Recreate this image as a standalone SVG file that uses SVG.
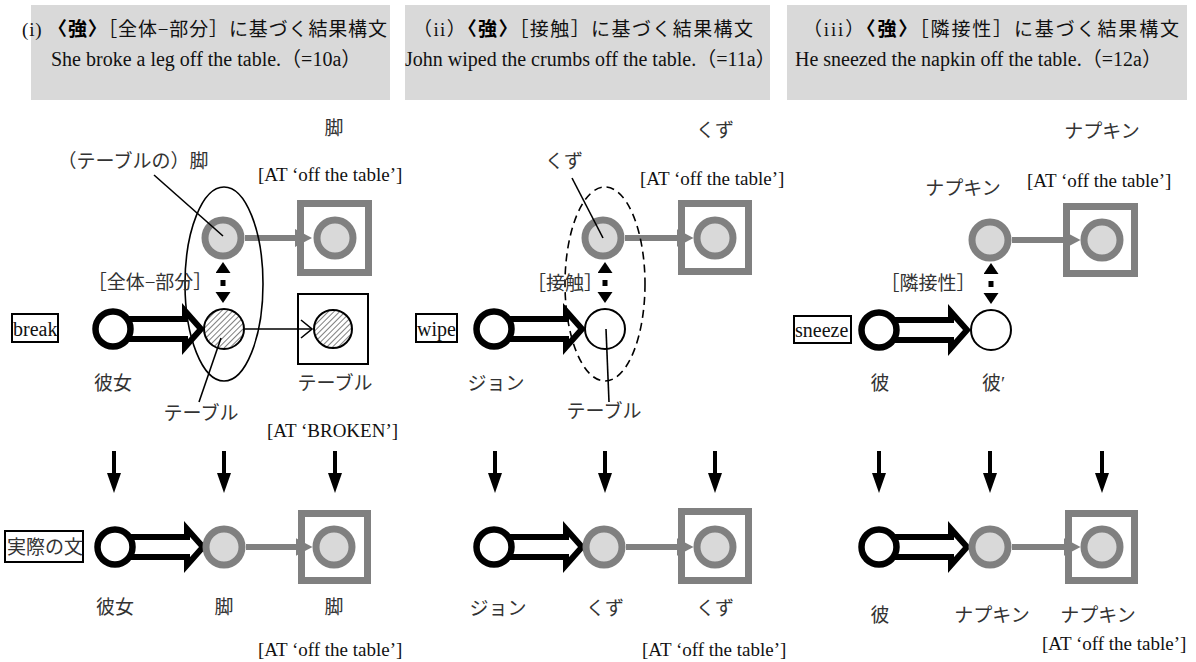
<svg xmlns="http://www.w3.org/2000/svg" width="1196" height="662" viewBox="0 0 1196 662">
  <style>
    .hdr { fill: #d9d9d9; }
    .t { font-family: 'Liberation Serif', 'Noto Sans CJK JP', serif; fill: #111; }
    .h1 { font-size: 19px; }
    .h2 { font-size: 20px; }
    .lbl { font-size: 19px; fill: #333; }
    .at { font-size: 19px; }
    .verb { font-size: 20px; }
    .b { font-weight: 700; fill: #000; }
    .mid { text-anchor: middle; }
    .gc { fill: #d9d9d9; stroke: #808080; stroke-width: 7; }
    .gsq { fill: none; stroke: #808080; stroke-width: 7; }
    .kc { fill: #fff; stroke: #000; stroke-width: 6.5; }
    .wc { fill: #fff; stroke: #000; stroke-width: 2; }
    .hc { fill: url(#hatch); stroke: #000; stroke-width: 2; }
    .bsq { fill: none; stroke: #000; stroke-width: 2; }
    .box { fill: #fff; stroke: #000; stroke-width: 2; }
    .garr { stroke: #808080; stroke-width: 6; fill: none; marker-end: url(#gHead); }
    .down { stroke: #000; stroke-width: 4; fill: none; marker-end: url(#dHead); }
    .dbl { stroke: #000; stroke-width: 5; fill: none; stroke-dasharray: 0 7 6 7; marker-start: url(#sHead); marker-end: url(#sHead); }
    .thin { stroke: #000; stroke-width: 1.6; fill: none; }
    .hollow { fill: #fff; stroke: #000; stroke-width: 6; stroke-linejoin: miter; }
  </style>
  <defs>
    <pattern id="hatch" patternUnits="userSpaceOnUse" width="4" height="4" patternTransform="rotate(45)">
      <rect width="4" height="4" fill="#fff"/>
      <line x1="0" y1="0" x2="0" y2="4" stroke="#555" stroke-width="1.5"/>
    </pattern>
    <marker id="gHead" markerUnits="userSpaceOnUse" markerWidth="18" markerHeight="20" refX="5" refY="10" orient="auto">
      <path d="M0,1 L17,10 L0,19 z" fill="#808080"/>
    </marker>
    <marker id="dHead" markerUnits="userSpaceOnUse" markerWidth="22" markerHeight="16" refX="6" refY="7" orient="auto">
      <path d="M0,0 L20,7 L0,14 z" fill="#000"/>
    </marker>
    <marker id="sHead" markerUnits="userSpaceOnUse" markerWidth="12" markerHeight="16" refX="0" refY="7.5" orient="auto-start-reverse">
      <path d="M0,0 L11,7.5 L0,15 z" fill="#000"/>
    </marker>
    <!-- hollow block arrow, origin at the agent circle centre -->
    <path id="hollowArrow" d="M12,-10 L72,-10 L72,-18 L88,0 L72,18 L72,10 L12,10"/>
  </defs>

  <!-- panel headers -->
  <g id="header-1">
    <rect class="hdr" x="31" y="5" width="359" height="95"/>
    <text class="t h1" x="22" y="36" textLength="365">(i) <tspan class="b">〈強〉</tspan>［全体−部分］に基づく結果構文</text>
    <text class="t h2" x="51" y="66">She broke a leg off the table.（=10a）</text>
  </g>
  <g id="header-2">
    <rect class="hdr" x="405" y="5" width="365" height="95"/>
    <text class="t h1" x="413" y="36" textLength="340">（ii）<tspan class="b">〈強〉</tspan>［接触］に基づく結果構文</text>
    <text class="t h2" x="405" y="66">John wiped the crumbs off the table.（=11a）</text>
  </g>
  <g id="header-3">
    <rect class="hdr" x="787" y="5" width="400" height="95"/>
    <text class="t h1" x="803" y="36" textLength="376">（iii）<tspan class="b">〈強〉</tspan>［隣接性］に基づく結果構文</text>
    <text class="t h2" x="795" y="66">He sneezed the napkin off the table.（=12a）</text>
  </g>

  <!-- arrows and links -->
  <g id="connectors">
    <!-- panel (i) -->
    <line class="garr" x1="245" y1="238" x2="300" y2="238"/>
    <line class="dbl" x1="223" y1="273" x2="223" y2="292"/>
    <use href="#hollowArrow" class="hollow" transform="translate(113,329)"/>
    <line class="thin" x1="245" y1="329" x2="312" y2="329"/>
    <path class="thin" d="M301,320 L312,329 L301,338"/>
    <line class="down" x1="114" y1="451" x2="114" y2="479"/>
    <line class="down" x1="224" y1="451" x2="224" y2="479"/>
    <line class="down" x1="335" y1="451" x2="335" y2="479"/>
    <use href="#hollowArrow" class="hollow" transform="translate(115,547)"/>
    <line class="garr" x1="246" y1="547" x2="300.5" y2="547"/>

    <!-- panel (ii) -->
    <line class="garr" x1="625" y1="238" x2="681.5" y2="238"/>
    <line class="dbl" x1="605" y1="273" x2="605" y2="292"/>
    <use href="#hollowArrow" class="hollow" transform="translate(494,329)"/>
    <line class="down" x1="495" y1="451" x2="495" y2="479"/>
    <line class="down" x1="605" y1="451" x2="605" y2="479"/>
    <line class="down" x1="715" y1="451" x2="715" y2="479"/>
    <use href="#hollowArrow" class="hollow" transform="translate(494,547)"/>
    <line class="garr" x1="626" y1="547" x2="681.5" y2="547"/>

    <!-- panel (iii) -->
    <line class="garr" x1="1012" y1="240" x2="1068.5" y2="240"/>
    <line class="dbl" x1="991" y1="274" x2="991" y2="293"/>
    <use href="#hollowArrow" class="hollow" transform="translate(879,330)"/>
    <line class="down" x1="879" y1="451" x2="879" y2="479"/>
    <line class="down" x1="990" y1="451" x2="990" y2="479"/>
    <line class="down" x1="1102" y1="451" x2="1102" y2="479"/>
    <use href="#hollowArrow" class="hollow" transform="translate(879,547)"/>
    <line class="garr" x1="1012" y1="547" x2="1068.5" y2="547"/>
  </g>

  <!-- panel (i) nodes -->
  <g id="p1-whole-part">
    <ellipse cx="224" cy="284" rx="39" ry="97" fill="none" stroke="#000" stroke-width="1.6"/>
  </g>
  <g id="p1-leg">
    <circle class="gc" cx="223" cy="238" r="18"/>
    <text class="t lbl mid" x="334" y="135">脚</text>
    <text class="t lbl mid" x="133" y="168">（テーブルの）脚</text>
  </g>
  <g id="p1-leg-goal">
    <rect class="gsq" x="300.5" y="203.5" width="68" height="69"/>
    <circle class="gc" cx="335" cy="238" r="18"/>
    <text class="t at" x="258" y="181">[AT ‘off the table’]</text>
  </g>
  <g id="p1-relation">
    <text class="t lbl mid" x="150" y="289">［全体−部分］</text>
  </g>
  <g id="p1-verb">
    <rect class="box" x="12" y="314" width="46" height="28"/>
    <text class="t verb" x="13" y="336">break</text>
  </g>
  <g id="p1-agent">
    <circle class="kc" cx="113" cy="329" r="17.5"/>
    <text class="t lbl mid" x="113" y="390">彼女</text>
  </g>
  <g id="p1-table">
    <circle class="hc" cx="224" cy="329" r="20"/>
    <text class="t lbl mid" x="201" y="420">テーブル</text>
  </g>
  <g id="p1-table-goal">
    <rect class="bsq" x="298" y="294" width="70" height="70"/>
    <circle class="hc" cx="333" cy="329" r="19"/>
    <text class="t lbl mid" x="335" y="390">テーブル</text>
    <text class="t at" x="267" y="437">[AT ‘BROKEN’]</text>
  </g>
  <g id="p1-actual">
    <rect class="box" x="5" y="531" width="78" height="31"/>
    <text class="t lbl" x="7" y="554">実際の文</text>
    <circle class="kc" cx="115" cy="547" r="17.5"/>
    <circle class="gc" cx="224" cy="547" r="18"/>
    <rect class="gsq" x="301.5" y="513.5" width="66" height="67"/>
    <circle class="gc" cx="334" cy="547" r="18"/>
    <text class="t lbl mid" x="115" y="614">彼女</text>
    <text class="t lbl mid" x="224" y="614">脚</text>
    <text class="t lbl mid" x="334" y="614">脚</text>
    <text class="t at" x="258" y="656">[AT ‘off the table’]</text>
  </g>

  <!-- panel (ii) nodes -->
  <g id="p2-contact">
    <ellipse cx="605" cy="284" rx="40" ry="97" fill="none" stroke="#000" stroke-width="1.6" stroke-dasharray="8 5"/>
  </g>
  <g id="p2-crumbs">
    <circle class="gc" cx="603" cy="238" r="18"/>
    <text class="t lbl mid" x="715" y="137">くず</text>
    <text class="t lbl mid" x="564" y="168">くず</text>
  </g>
  <g id="p2-crumbs-goal">
    <rect class="gsq" x="681.5" y="203.5" width="67" height="68"/>
    <circle class="gc" cx="715" cy="238" r="18"/>
    <text class="t at" x="640" y="185">[AT ‘off the table’]</text>
  </g>
  <g id="p2-relation">
    <text class="t lbl mid" x="565" y="290">［接触］</text>
  </g>
  <g id="p2-verb">
    <rect class="box" x="416" y="314" width="41" height="28"/>
    <text class="t verb" x="417" y="336">wipe</text>
  </g>
  <g id="p2-agent">
    <circle class="kc" cx="494" cy="329" r="17.5"/>
    <text class="t lbl mid" x="496" y="390">ジョン</text>
  </g>
  <g id="p2-table">
    <circle class="wc" cx="605" cy="329" r="20"/>
    <text class="t lbl mid" x="604" y="418">テーブル</text>
  </g>
  <g id="p2-actual">
    <circle class="kc" cx="494" cy="547" r="17.5"/>
    <circle class="gc" cx="604" cy="547" r="18"/>
    <rect class="gsq" x="681.5" y="511.5" width="67" height="69"/>
    <circle class="gc" cx="715" cy="547" r="18"/>
    <text class="t lbl mid" x="498" y="615">ジョン</text>
    <text class="t lbl mid" x="605" y="615">くず</text>
    <text class="t lbl mid" x="715" y="615">くず</text>
    <text class="t at" x="642" y="656">[AT ‘off the table’]</text>
  </g>

  <!-- panel (iii) nodes -->
  <g id="p3-napkin">
    <circle class="gc" cx="990" cy="240" r="18"/>
    <text class="t lbl mid" x="1102" y="138">ナプキン</text>
    <text class="t lbl mid" x="963" y="195">ナプキン</text>
  </g>
  <g id="p3-napkin-goal">
    <rect class="gsq" x="1066.5" y="206.5" width="68" height="67"/>
    <circle class="gc" cx="1102" cy="240" r="18"/>
    <text class="t at" x="1027" y="187">[AT ‘off the table’]</text>
  </g>
  <g id="p3-relation">
    <text class="t lbl mid" x="928" y="290">［隣接性］</text>
  </g>
  <g id="p3-verb">
    <rect class="box" x="794" y="316" width="57" height="27"/>
    <text class="t verb" x="795" y="337">sneeze</text>
  </g>
  <g id="p3-agent">
    <circle class="kc" cx="879" cy="330" r="17.5"/>
    <text class="t lbl mid" x="880" y="390">彼</text>
  </g>
  <g id="p3-self">
    <circle class="wc" cx="991" cy="330" r="20"/>
    <text class="t lbl" x="982" y="390">彼′</text>
  </g>
  <g id="p3-actual">
    <circle class="kc" cx="879" cy="547" r="17.5"/>
    <circle class="gc" cx="990" cy="547" r="18"/>
    <rect class="gsq" x="1068.5" y="513.5" width="66" height="67"/>
    <circle class="gc" cx="1102" cy="547" r="18"/>
    <text class="t lbl mid" x="880" y="622">彼</text>
    <text class="t lbl mid" x="992" y="622">ナプキン</text>
    <text class="t lbl mid" x="1098" y="622">ナプキン</text>
    <text class="t at" x="1042" y="650">[AT ‘off the table’]</text>
  </g>

  <!-- leader lines from labels to their nodes -->
  <g id="callouts" stroke="#000" stroke-width="1.6" fill="none">
    <line x1="154" y1="175" x2="223" y2="236"/>
    <line x1="221" y1="338" x2="199" y2="402"/>
    <line x1="572" y1="178" x2="603" y2="238"/>
    <line x1="606" y1="329" x2="609" y2="402"/>
  </g>
</svg>
